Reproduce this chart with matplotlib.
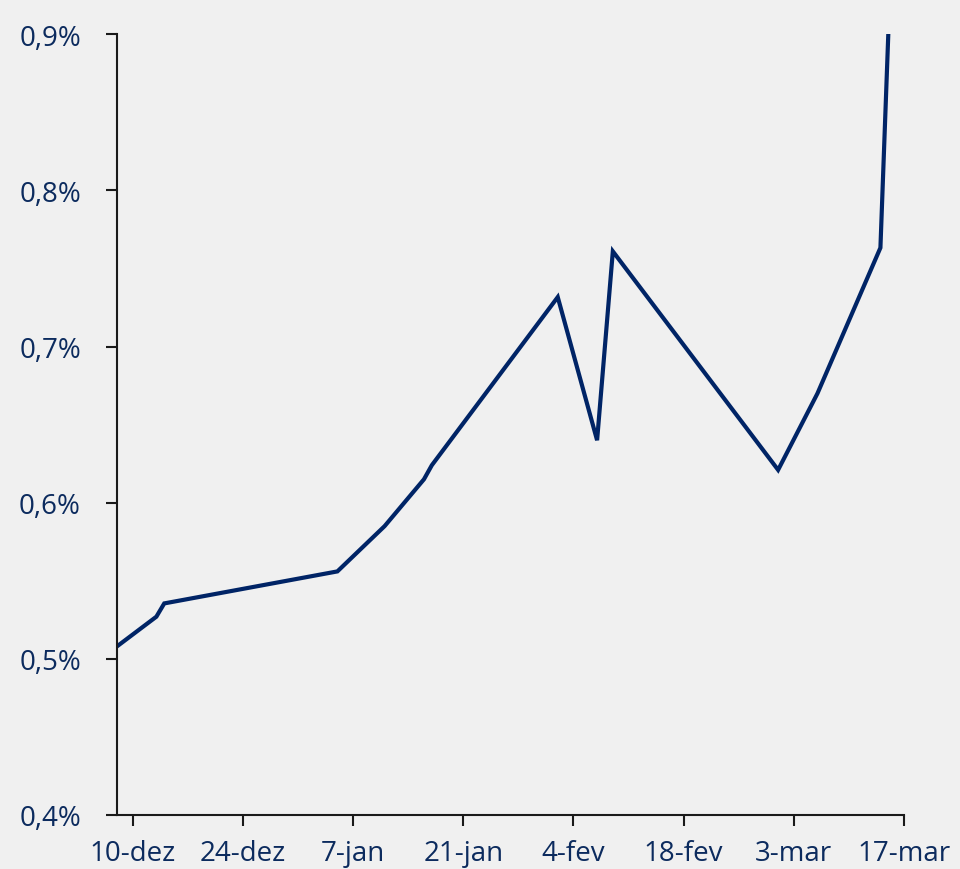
import datetime as dt
import matplotlib
matplotlib.use("Agg")
import matplotlib.pyplot as plt
from matplotlib.ticker import FuncFormatter

# Values (Dec 2019 - Mar 2020)
dates = ["2019-12-08", "2019-12-13", "2019-12-14", "2020-01-05", "2020-01-11",
         "2020-01-16", "2020-01-17", "2020-02-02", "2020-02-07", "2020-02-09",
         "2020-03-01", "2020-03-06", "2020-03-14", "2020-03-15"]
values = [0.508, 0.527, 0.5355, 0.556, 0.585, 0.615, 0.624, 0.7317, 0.640,
          0.761, 0.621, 0.670, 0.7633, 0.90]

tick_dates = ["2019-12-10", "2019-12-24", "2020-01-07", "2020-01-21",
              "2020-02-04", "2020-02-18", "2020-03-03", "2020-03-17"]
tick_labels = ["10-dez", "24-dez", "7-jan", "21-jan", "4-fev", "18-fev", "3-mar", "17-mar"]
y_ticks = [0.4, 0.5, 0.6, 0.7, 0.8, 0.9]

BG = "#f0f0f0"
NAVY = "#002466"
TEXT = "#0c2b5e"

plt.rcParams['font.family'] = ['Open Sans', 'DejaVu Sans']

x = [dt.datetime.strptime(d, "%Y-%m-%d") for d in dates]
xt = [dt.datetime.strptime(d, "%Y-%m-%d") for d in tick_dates]

fig = plt.figure(figsize=(9.6, 8.7), dpi=100, facecolor=BG)
ax = fig.add_axes([0.1219, 0.0621, 0.8198, 0.8973])
ax.set_facecolor(BG)

ax.plot(x, values, color=NAVY, lw=3, solid_joinstyle="miter")

ax.set_xlim(x[0], xt[-1])
ax.set_ylim(0.4, 0.9)
ax.set_xticks(xt)
ax.set_xticklabels(tick_labels)
ax.set_yticks(y_ticks)
ax.yaxis.set_major_formatter(FuncFormatter(lambda v, p: f"{v:.1f}%".replace(".", ",")))

for s in ["top", "right"]:
    ax.spines[s].set_visible(False)
for s in ["left", "bottom"]:
    ax.spines[s].set_color("#1a1a1a")
    ax.spines[s].set_linewidth(1.5)

ax.tick_params(axis="x", length=8, width=1.5, color="#1a1a1a", labelsize=20,
               labelcolor=TEXT, pad=9)
ax.tick_params(axis="y", length=8, width=1.5, color="#1a1a1a", labelsize=20,
               labelcolor=TEXT, pad=18)

fig.savefig("out.png", dpi=100, facecolor=BG)
